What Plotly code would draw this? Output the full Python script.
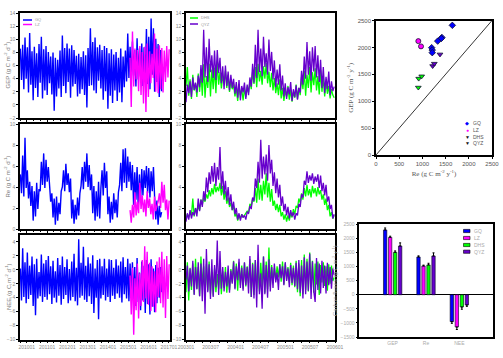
import plotly.graph_objects as go
import pandas as pd

W, H = 503, 358

# ---------------- data: daily-flux time series ----------------
# left column: GQ (blue) and LZ (magenta)
left_start, left_step = "2009-09-07", "21D"
lz_start, lz_step = "2015-02-01", "22D"

gq_gep = [8.6,3.8,9.2,2.4,10.3,4.0,8.8,1.9,11.0,3.1,8.2,0.7,
          8.9,2.6,7.9,1.2,9.3,3.4,10.4,1.0,8.5,2.2,9.0,1.5,8.1,3.3,
          7.4,1.6,8.0,-0.9,7.2,1.3,6.9,2.5,8.3,1.2,
          10.6,2.9,8.7,1.8,9.4,3.5,8.6,1.1,9.1,2.8,8.4,3.2,7.5,1.3,
          7.8,1.7,7.3,2.4,8.2,1.5,7.6,-0.4,
          8.7,2.9,11.7,3.0,9.6,2.2,10.3,1.8,8.8,3.7,9.2,2.5,
          8.4,0.8,9.0,2.1,8.7,-0.6,7.9,1.4,8.5,0.3,7.7,2.2,
          8.1,0.6,7.2,1.9,8.6,0.4,7.4,2.7,8.3,3.6,10.9,4.1,
          8.9,3.3,9.7,4.5,8.4,2.8,10.2,3.9,8.6,4.3,9.4,2.9,8.8,4.0,
          11.6,3.2,10.4,2.4,13.2,4.6,11.7,2.0,10.1,3.5,9.3,1.2,8.4,2.1]
lz_gep = [7.2,-0.3,11.2,2.8,8.6,3.9,8.4,2.1,9.0,1.5,8.1,0.2,8.9,-1.1,9.4,1.2,8.2,
          3.3,7.8,4.1,10.9,2.0,8.6,1.8,9.1,2.4,8.7,1.9,8.3,3.5,9.0,4.2,8.5]

gq_re = [5.2,3.4,7.0,3.1,8.7,3.9,5.6,
         2.9,4.5,2.2,4.1,0.8,3.6,1.2,4.4,1.9,3.8,
         3.6,6.4,4.2,7.2,3.9,6.6,4.5,5.9,3.5,
         2.6,3.4,1.1,2.9,0.4,3.1,0.8,2.5,1.4,3.6,
         4.0,5.6,3.6,6.2,4.2,5.3,3.5,4.8,
         1.0,2.8,0.5,2.3,0.9,3.0,1.3,3.4,
         4.1,5.9,3.8,6.4,4.5,7.2,4.0,6.1,3.7,5.2,
         1.5,4.1,0.8,3.6,1.2,4.5,1.0,3.9,
         5.6,3.2,6.3,3.9,5.5,
         1.4,3.1,0.6,2.6,0.9,3.4,1.5,2.8,1.1,3.5,
         4.2,6.3,3.6,7.6,4.4,7.7,3.9,6.9,4.5,6.4,3.7,6.1,
         2.3,5.4,2.8,5.9,2.0,5.2,2.6,5.7,
         3.2,5.6,3.9,6.0,3.4,5.8,3.0,5.5,3.6,5.9,3.1,
         0.9,2.7,0.4,2.2,1.1,1.6]
lz_re = [1.8,0.6,2.3,1.1,3.5,1.3,2.6,1.5,4.4,1.9,3.2,1.6,2.8,1.2,3.6,2.0,2.9,
         1.4,2.4,0.9,3.1,1.7,2.2,2.6,3.4,2.0,4.5,2.5,4.2,1.8,2.8,0.9,2.7]

gq_nee = [0.2,-4.4,3.1,-3.9,1.1,-4.8,2.5,-4.2,0.6,-3.6,1.9,-5.2,
          0.8,-6.5,1.6,-4.1,-0.3,-3.8,2.2,-4.6,0.9,-3.9,1.4,-4.3,
          2.0,-3.5,0.5,-4.9,1.3,-4.0,-0.2,-4.7,1.7,-3.7,0.7,-5.0,
          1.9,-4.2,0.4,-3.6,1.5,-4.8,0.1,-4.4,1.2,-3.9,2.3,-4.5,
          0.3,-5.1,4.4,-4.0,1.0,-3.7,3.3,-4.3,0.6,-4.6,1.8,-3.8,
          0.9,-4.9,2.1,-6.2,0.2,-4.0,1.4,-7.1,1.6,-4.1,0.5,-3.6,
          1.6,-4.4,0.2,-3.9,1.5,-4.6,1.4,-3.7,0.3,-4.2,1.5,-3.4,
          0.6,-4.0,1.2,-4.7,1.8,-3.5,0.4,-4.1,1.6,-4.5,0.9,-3.8,
          1.1,-4.3,0.4,-5.2,1.7,-4.6,-0.4,-5.8,1.2,-4.4,0.6,-6.2,
          1.4,-4.9,0.8,-6.4,1.5,-5.3,0.2,-6.1,0.7,-4.8,0.3,-4.0,0.4,-3.2]
lz_nee = [-0.8,-6.4,0.3,-9.3,-1.2,-5.8,0.9,-7.0,-0.5,-5.2,1.4,-4.6,3.4,-4.1,2.6,-5.0,1.0,
          -5.9,0.5,-5.3,-0.2,-6.1,1.2,-3.9,1.8,-4.8,2.6,-5.4,1.5,-6.9,2.0,-4.2,0.8]

# middle column: DHS (green) and QYZ (purple), 2003-2005
mid_start, mid_step = "2003-01-01", "10D"
qyz_gep = [0.4,3.1,1.8,3.6,1.2,4.2,2.3,3.4,1.9,4.5,
           2.7,6.1,3.4,11.5,4.2,8.8,3.5,10.1,5.0,7.6,
           4.1,8.3,3.8,8.4,4.9,7.2,3.3,5.9,2.4,6.0,
           2.9,5.1,2.2,4.6,2.6,4.0,1.7,3.5,1.1,3.8,
           0.7,2.9,1.9,3.4,0.9,3.1,1.5,4.2,2.8,6.3,
           3.4,9.2,4.1,11.5,5.0,8.6,4.4,10.4,5.8,7.9,
           4.6,10.0,5.2,8.1,3.9,6.8,2.7,5.4,3.1,6.2,
           2.2,4.5,1.3,3.3,0.9,2.7,1.6,3.5,0.6,2.4,
           1.2,3.0,0.8,2.6,1.9,5.2,3.1,7.4,4.0,9.6,
           4.6,8.2,3.7,8.8,5.1,9.0,4.2,7.6,3.5,6.9,
           2.6,5.8,1.8,4.3,2.4,5.1,1.5,3.6,2.1,2.8]
dhs_gep = [2.9,5.8,1.4,3.9,0.9,4.6,2.2,3.3,1.2,4.8,
           2.0,5.1,1.4,6.2,1.1,4.4,2.6,6.3,1.3,5.4,
           2.4,5.7,1.8,6.8,3.1,5.0,2.5,4.4,3.3,5.2,
           2.6,4.6,2.0,3.8,2.4,3.1,1.3,2.7,0.6,2.9,
           1.5,2.4,0.7,2.5,1.2,2.8,1.9,3.6,2.4,5.1,
           3.2,5.8,2.7,6.3,3.6,5.2,3.1,5.9,4.0,6.4,
           3.3,5.1,2.7,4.9,2.2,4.1,1.8,3.3,1.5,3.9,
           1.0,2.6,0.6,2.2,1.3,2.9,0.8,2.3,0.5,2.0,
           1.1,3.1,0.9,2.6,1.5,4.3,2.4,5.2,1.4,4.6,
           2.6,5.8,1.9,5.0,3.0,5.6,2.2,4.4,1.6,5.3,
           2.0,4.2,1.3,3.6,1.7,2.9,1.0,2.4,1.5,1.1]
qyz_re = [0.7,1.5,0.9,1.8,1.0,1.6,1.3,2.0,1.2,2.9,
          1.7,2.8,2.1,3.6,2.7,4.9,3.5,5.4,4.3,6.0,
          4.5,6.3,4.1,5.9,4.7,7.8,3.8,5.5,3.3,4.6,
          2.7,4.0,2.3,3.3,1.8,2.6,1.4,2.0,0.9,1.5,
          0.8,1.4,1.1,1.3,0.9,1.6,1.5,2.2,1.9,3.0,
          2.7,4.8,3.9,6.4,4.4,8.5,4.8,6.9,5.2,7.1,
          4.6,8.0,5.3,6.6,4.1,5.4,3.4,4.8,3.0,4.2,
          2.2,3.1,1.7,2.4,1.3,2.1,1.0,1.8,1.2,1.6,
          0.9,1.5,1.3,2.4,2.1,3.3,3.0,4.6,4.2,5.5,
          4.4,5.1,4.6,5.3,4.3,5.0,4.5,5.2,3.9,5.1,
          3.6,4.4,3.2,4.2,2.6,3.1,1.9,2.3,1.0,1.4]
dhs_re = [1.0,1.4,1.1,1.6,1.3,2.9,1.2,2.0,1.5,2.2,
          1.8,2.8,2.3,3.0,2.6,3.3,2.9,3.7,3.1,3.9,
          3.3,4.3,3.5,4.0,3.6,4.4,3.2,4.1,2.8,3.6,
          2.4,3.0,2.1,2.5,1.8,2.2,1.2,1.5,0.8,1.3,
          1.0,1.4,1.1,1.3,1.4,1.7,1.5,2.4,2.2,2.9,
          2.6,3.9,2.5,4.8,2.8,4.2,2.7,4.6,3.3,5.3,
          3.0,4.4,2.6,3.8,2.2,2.7,1.8,2.4,1.6,2.3,
          1.2,1.6,0.9,1.4,0.7,1.3,0.8,1.5,1.1,1.9,
          1.4,2.2,2.0,2.9,2.5,3.4,2.8,3.9,3.1,4.2,
          3.2,3.8,3.0,4.1,3.4,3.9,3.1,4.0,3.3,3.7,
          2.8,3.3,2.3,2.9,1.8,2.3,1.2,1.6,1.0,1.3]
qyz_nee = [-1.4,0.6,-3.1,0.2,-2.4,1.3,-3.6,0.4,-2.8,1.1,
           -3.8,0.9,-4.5,1.6,-6.3,3.0,-3.2,0.8,-4.2,1.5,
           -3.9,0.7,-2.5,4.2,-3.6,2.7,-2.7,0.4,-3.1,-0.3,
           -2.4,0.6,-3.3,-0.1,-2.0,1.2,-2.8,0.5,-1.5,1.6,
           -2.6,0.3,-3.0,1.1,-2.2,0.4,-3.4,2.0,-3.9,0.8,
           -4.1,1.4,-5.4,3.6,-3.5,-0.5,-5.6,1.9,-3.5,0.7,
           -4.0,1.5,-3.1,0.4,-2.6,0.9,-1.8,-0.4,-2.9,0.8,
           -1.2,0.5,-2.2,1.1,-1.6,0.2,-2.5,0.7,-1.9,0.3,
           -2.3,1.0,-2.8,1.4,-3.3,0.6,-4.1,1.8,-3.5,1.2,
           -3.0,2.3,-4.2,1.2,-3.1,-4.6,1.7,-2.9,0.9,-3.4,
           1.3,-2.6,0.6,-3.4,1.0,-2.2,0.4,-2.7,0.2,-0.8]
dhs_nee = [-3.2,1.1,-4.4,0.3,-2.9,0.9,-3.5,1.6,-2.7,0.4,
           -3.8,1.9,-2.4,0.5,-3.6,0.8,-3.0,1.2,-3.4,-0.3,
           -3.7,0.2,-3.2,-0.6,-2.8,0.3,-3.5,-0.2,-2.6,0.4,
           -3.3,-0.5,-2.9,0.1,-1.8,1.3,-2.6,0.9,-3.0,1.1,
           -2.2,0.6,-2.7,1.0,-2.4,0.5,-1.9,1.5,-3.9,1.0,
           -3.6,1.4,-2.7,0.6,-3.1,1.0,-2.5,1.9,-3.3,1.2,
           -2.8,3.2,-2.4,0.7,-1.9,0.3,-1.5,0.5,-1.1,0.8,
           -1.7,1.2,-2.1,0.9,-1.4,0.4,-1.8,1.0,-2.2,0.6,
           -2.5,1.3,-3.2,0.9,-3.8,1.4,-3.5,2.2,-2.9,1.6,
           -3.1,2.5,-2.4,1.3,-3.3,0.9,-2.1,1.2,-3.6,0.7,
           -1.8,1.1,-2.3,0.5,-3.0,0.8,-2.0,0.6,-1.6,-1.1]

# annual sums: scatter GEP vs Re
gq_re_y  = [1645,1420,1405,1330,1200,1212,1212]
gq_gep_y = [2410,2185,2165,2117,1995,1950,1902]
lz_re_y  = [912,970]
lz_gep_y = [2117,2019]
dhs_re_y  = [912,920,985]
dhs_gep_y = [1254,1420,1463]
qyz_re_y  = [1221,1257,1379]
qyz_gep_y = [1654,1698,1870]
one_to_one = [0, 2500]

# mean annual fluxes (bars)
bar_cats = ["GEP", "Re", "NEE"]
gq_bar  = [2300, 1340, -955]
lz_bar  = [2038, 1021, -1144]
dhs_bar = [1506, 1057, -434]
qyz_bar = [1731, 1376, -363]
gq_err  = [70, 40, 60]
lz_err  = [40, 30, 90]
dhs_err = [50, 60, 80]
qyz_err = [110, 110, 50]

sites = ["GQ", "LZ", "DHS", "QYZ"]
colors = {"GQ": "#0000FF", "LZ": "#FF00FF", "DHS": "#00FF00", "QYZ": "#6600CC"}

# ---------------- figure ----------------
def px(x): return x / W
def py(y): return 1 - y / H

fig = go.Figure()
FONT = "Liberation Sans"
GRAY = "#8a8a8a"

def add_line(x, y, color, n, width):
    fig.add_trace(go.Scatter(x=x, y=y, mode="lines", line=dict(color=color, width=width),
                             xaxis="x" + n, yaxis="y" + n, showlegend=False, hoverinfo="skip"))

def dates(start, step, vals):
    return pd.date_range(start, periods=len(vals), freq=step)

left = [("", gq_gep, lz_gep), ("2", gq_re, lz_re), ("3", gq_nee, lz_nee)]
for n, gq, lz in left:
    add_line(dates(left_start, left_step, gq), gq, colors["GQ"], n, 1.4)
    add_line(dates(lz_start, lz_step, lz), lz, colors["LZ"], n, 1.4)

mid = [("4", dhs_gep, qyz_gep), ("5", dhs_re, qyz_re), ("6", dhs_nee, qyz_nee)]
for n, dhs, qyz in mid:
    add_line(dates(mid_start, mid_step, dhs), dhs, colors["DHS"], n, 1.3)
    add_line(dates(mid_start, mid_step, qyz), qyz, colors["QYZ"], n, 1.3)

# scatter
fig.add_trace(go.Scatter(x=one_to_one, y=one_to_one, mode="lines", line=dict(color="black", width=0.8),
                         xaxis="x7", yaxis="y7", showlegend=False, hoverinfo="skip"))
for s, xs, ys, sym in [("GQ", gq_re_y, gq_gep_y, "diamond"), ("LZ", lz_re_y, lz_gep_y, "circle"),
                       ("DHS", dhs_re_y, dhs_gep_y, "triangle-down"), ("QYZ", qyz_re_y, qyz_gep_y, "triangle-down")]:
    fig.add_trace(go.Scatter(x=xs, y=ys, mode="markers", name=s, xaxis="x7", yaxis="y7", showlegend=False,
                             marker=dict(symbol=sym, size=5, color=colors[s], line=dict(color="#101030", width=0.8))))

# bars
for s, vals, err in [("GQ", gq_bar, gq_err), ("LZ", lz_bar, lz_err), ("DHS", dhs_bar, dhs_err), ("QYZ", qyz_bar, qyz_err)]:
    plus = [e if v > 0 else 0 for v, e in zip(vals, err)]
    minus = [e if v < 0 else 0 for v, e in zip(vals, err)]
    fig.add_trace(go.Bar(x=bar_cats, y=vals, name=s, xaxis="x8", yaxis="y8", showlegend=False,
                         marker=dict(color=colors[s], line=dict(color="#000020", width=0.6)),
                         error_y=dict(type="data", symmetric=False, array=plus, arrayminus=minus,
                                      color="black", thickness=1, width=1)))

box = dict(showline=True, mirror=True, linecolor="black", linewidth=1.5, ticks="outside", ticklen=2,
           tickwidth=1, tickcolor="black", showgrid=False, zeroline=False, automargin=False,
           tickfont=dict(size=5, color=GRAY, family=FONT))

LX = [px(20), px(170)]
MX = [px(186), px(335)]
ROWS = [[py(118), py(13.3)], [py(229), py(124)], [py(339.5), py(235)]]
YR = [[-2, 14], [0, 10], [-10, 5]]
YT = ["GEP (g C m<sup>-2</sup> d<sup>-1</sup>)", "Re (g C m<sup>-2</sup> d<sup>-1</sup>)",
      "NEE (g C m<sup>-2</sup> d<sup>-1</sup>)"]
YT_Y = [65.5, 176.5, 287]

lay = {}
for i in range(3):
    nl = "" if i == 0 else str(i + 1)
    nm = str(i + 4)
    last = i == 2
    lay["xaxis" + nl] = dict(box, domain=LX, anchor="y" + nl, type="date",
                             range=["2009-09-01", "2017-01-20"], dtick="M12", tick0="2010-01-01",
                             tickformat="%Y%m", showticklabels=last,
                             minor=dict(dtick="M4", ticklen=1.5, ticks="outside", tickcolor="black"))
    lay["yaxis" + nl] = dict(box, domain=ROWS[i], anchor="x" + nl, range=YR[i], dtick=2)
    lay["xaxis" + nm] = dict(box, domain=MX, anchor="y" + nm, type="date",
                             range=["2003-01-01", "2006-01-01"], dtick="M6", tick0="2003-01-01",
                             tickformat="%Y%m", showticklabels=last,
                             minor=dict(dtick="M2", ticklen=1.5, ticks="outside", tickcolor="black"))
    lay["yaxis" + nm] = dict(box, domain=ROWS[i], anchor="x" + nm, range=YR[i], dtick=2)

lay["xaxis7"] = dict(box, domain=[px(376), px(492)], anchor="y7", range=[0, 2500], dtick=500,
                     tickfont=dict(size=6, color="#555", family=FONT),
                     title=dict(text="Re (g C m<sup>-2</sup> y<sup>-1</sup>)",
                                font=dict(size=7, color="#555", family="Liberation Serif"), standoff=5))
lay["yaxis7"] = dict(box, domain=[py(155), py(20.5)], anchor="x7", range=[0, 2500], dtick=500,
                     tickfont=dict(size=6, color="#555", family=FONT),
                     title=dict(text="GEP (g C m<sup>-2</sup> y<sup>-1</sup>)",
                                font=dict(size=7, color="#555", family="Liberation Serif"), standoff=3))
lay["xaxis8"] = dict(box, domain=[px(359.3), px(492.7)], anchor="y8", type="category", range=[-1, 3],
                     ticks="", tickfont=dict(size=5, color="#aaa", family=FONT))
lay["yaxis8"] = dict(box, domain=[py(337), py(224.3)], anchor="x8", range=[-1500, 2500], dtick=500,
                     zeroline=True, zerolinecolor="black", zerolinewidth=1,
                     tickfont=dict(size=5, color="#aaa", family=FONT),
                     title=dict(text="Carbon fluxes (g C m<sup>-2</sup> y<sup>-1</sup>)",
                                font=dict(size=6, color="#aaa", family=FONT), standoff=2))

shapes, annots = [], []
def leg_line(x0, x1, y, color):
    shapes.append(dict(type="line", xref="paper", yref="paper", x0=px(x0), x1=px(x1), y0=py(y), y1=py(y),
                       line=dict(color=color, width=1.5)))
def leg_text(x, y, text, color="#999", size=5, xanchor="left", angle=0):
    annots.append(dict(xref="paper", yref="paper", x=px(x), y=py(y), text=text, showarrow=False,
                       xanchor=xanchor, yanchor="middle", textangle=angle,
                       font=dict(size=size, color=color, family=FONT)))

# left-column y-axis titles
for t, y in zip(YT, YT_Y):
    leg_text(8, y, t, color="#7a7a7a", size=6, xanchor="center", angle=-90)

# line legends
leg_line(23, 32, 20, colors["GQ"]); leg_text(33, 19.5, "GQ", size=4)
leg_line(23, 32, 24.5, colors["LZ"]); leg_text(33, 25, "LZ", size=4)
leg_line(190, 198, 18, colors["DHS"]); leg_text(199, 17.5, "DHS", size=4)
leg_line(190, 198, 24, colors["QYZ"]); leg_text(199, 24.5, "QYZ", size=4)

# scatter legend
for (s, glyph, gc), y in zip([("GQ", "◆", colors["GQ"]), ("LZ", "●", colors["LZ"]),
                              ("DHS", "▼", "#111"), ("QYZ", "▼", "#111")], [122.7, 130, 136.7, 143.3]):
    leg_text(467, y, glyph, color=gc, size=5, xanchor="center")
    leg_text(471, y, s, color="#555", size=5)

# bar legend
for s, y in zip(sites, [231, 238, 245, 251.7]):
    shapes.append(dict(type="rect", xref="paper", yref="paper", x0=px(463.5), x1=px(470), y0=py(y + 1.6),
                       y1=py(y - 1.6), fillcolor=colors[s], line=dict(color="black", width=0.6)))
    leg_text(472, y, s, color="#aaa", size=5)

fig.update_layout(
    width=W, height=H, margin=dict(l=0, r=0, t=0, b=0, autoexpand=False),
    paper_bgcolor="white", plot_bgcolor="white",
    font=dict(family=FONT, size=5, color=GRAY),
    barmode="group", bargap=0.4, bargroupgap=0.33,
    shapes=shapes, annotations=annots, showlegend=False,
    **lay)

fig.write_html("out.html", config={"displayModeBar": False})

# remove the default page margin so the figure sits at the window's top-left corner
with open("out.html", encoding="utf-8") as f:
    page = f.read()
page = page.replace("<head>", "<head><style>html,body{margin:0;padding:0;overflow:hidden;}</style>", 1)
with open("out.html", "w", encoding="utf-8") as f:
    f.write(page)
